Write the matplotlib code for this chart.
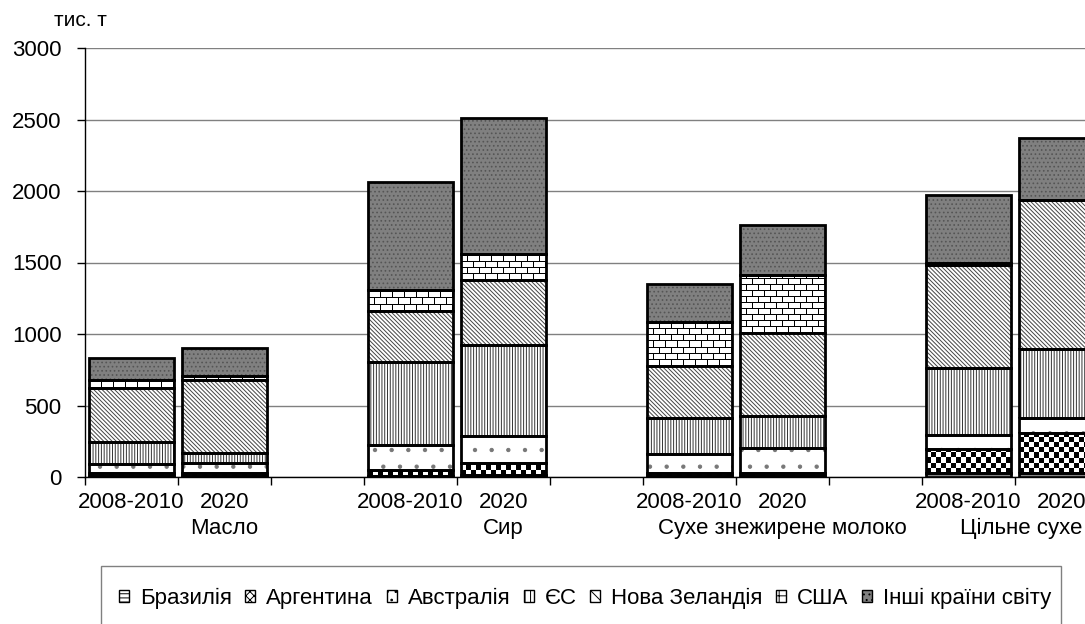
import numpy as np
import matplotlib
matplotlib.use('Agg')
import matplotlib.pyplot as plt
from matplotlib.patches import Patch, Rectangle

plt.rcParams['font.family'] = ['Liberation Sans', 'DejaVu Sans']
plt.rcParams['hatch.linewidth'] = 0.7

groups = ['Масло', 'Сир', 'Сухе знежирене молоко', 'Цільне сухе молоко']
periods = ['2008-2010', '2020']
series_names = ['Бразилія', 'Аргентина', 'Австралія', 'ЄС', 'Нова Зеландія', 'США', 'Інші країни світу']
# bar order: Масло 08-10, Масло 2020, Сир 08-10, Сир 2020, СЗМ 08-10, СЗМ 2020, ЦСМ 08-10, ЦСМ 2020
brazil    = [5, 5, 10, 15, 5, 5, 25, 30]
argentina = [20, 25, 40, 80, 20, 25, 170, 275]
australia = [65, 65, 175, 190, 135, 170, 100, 105]
eu        = [155, 70, 580, 635, 250, 225, 465, 485]
nz        = [380, 510, 357, 460, 365, 580, 725, 1040]
usa       = [55, 30, 147, 180, 310, 405, 10, 5]
others    = [155, 200, 755, 950, 265, 355, 480, 430]
yticks = [0, 500, 1000, 1500, 2000, 2500, 3000]

FW, FH = 1085, 624
fig = plt.figure(figsize=(FW / 100, FH / 100), dpi=100)
n_slots = 12
slot_px = 93
ax_w_px = n_slots * slot_px
ax_h_px = 429
ax = fig.add_axes([85 / FW, (FH - 477) / FH, ax_w_px / FW, ax_h_px / FH])
px_x = slot_px
px_y = ax_h_px / 3000.0

x = np.array([3 * (k // 2) + (k % 2) + 0.5 for k in range(8)])
bw = 85 / 93


def checker(hpx, wpx, cell=5):
    i, j = np.indices((hpx, wpx))
    return ((i // cell + j // cell) % 2).astype(float)


def bricks(hpx, wpx, bh=6, bwid=12):
    i, j = np.indices((hpx, wpx))
    arr = np.ones((hpx, wpx))
    arr[i % bh == 0] = 0
    off = ((i // bh) % 2) * (bwid // 2)
    arr[(j + off) % bwid == 0] = 0
    return arr


styles = [
    dict(face='white', hatch='---', hc='black', tex=None),
    dict(face='white', hatch=None, hc='black', tex=checker),
    dict(face='white', hatch='.', hc='#777777', tex=None),
    dict(face='white', hatch='||||||', hc='#333333', tex=None),
    dict(face='white', hatch='\\\\\\\\\\\\\\\\', hc='#444444', tex=None),
    dict(face='white', hatch=None, hc='black', tex=bricks),
    dict(face='#808080', hatch='....', hc='#555555', tex=None),
]
data = [brazil, argentina, australia, eu, nz, usa, others]

bottom = np.zeros(8)
for vals, st in zip(data, styles):
    vals = np.array(vals, dtype=float)
    if st['tex'] is None:
        ax.bar(x, vals, bw, bottom=bottom, color=st['face'], hatch=st['hatch'],
               edgecolor=st['hc'], linewidth=0, zorder=2)
    else:
        bars = ax.bar(x, vals, bw, bottom=bottom, color='white', linewidth=0, zorder=2)
        for rect in bars:
            hpx = int(round(rect.get_height() * px_y))
            wpx = int(round(rect.get_width() * px_x))
            if hpx < 2:
                continue
            arr = st['tex'](hpx, wpx)
            im = ax.imshow(arr, cmap='gray', vmin=0, vmax=1, interpolation='nearest',
                           extent=[rect.get_x(), rect.get_x() + rect.get_width(),
                                   rect.get_y(), rect.get_y() + rect.get_height()],
                           aspect='auto', zorder=3, origin='lower')
            im.set_clip_path(rect)
    ax.bar(x, vals, bw, bottom=bottom, fill=False, edgecolor='black', linewidth=2, zorder=4)
    bottom += vals

ax.set_xlim(0, n_slots)
ax.set_ylim(0, 3000)
ax.set_aspect('auto')

ax.spines['top'].set_visible(False)
ax.spines['right'].set_visible(False)
ax.spines['left'].set_linewidth(1)
ax.spines['bottom'].set_linewidth(1)
ax.set_axisbelow(True)
ax.yaxis.grid(True, color='#808080', linewidth=1)

ax.set_yticks(yticks)
ax.set_yticklabels([str(v) for v in yticks])
ax.tick_params(axis='y', length=6, width=1, pad=11, labelsize=16)

ax.set_xticks(np.arange(0, n_slots + 1))
ax.set_xticklabels([])
ax.tick_params(axis='x', which='major', length=6, width=1)
centers = []
labels = []
for g in range(4):
    for p in range(2):
        centers.append(3 * g + p + 0.5)
        labels.append(periods[p])
ax.set_xticks(centers, minor=True)
ax.set_xticklabels(labels, minor=True)
ax.tick_params(axis='x', which='minor', length=0, pad=11, labelsize=16)

for g, name in enumerate(groups):
    ax.annotate(name, xy=(3 * g + 1.5, 0), xycoords=('data', 'axes fraction'),
                xytext=(0, -37), textcoords='offset points', ha='center', va='center',
                fontsize=16, annotation_clip=False)

fig.text(80 / FW, 1 - 21 / FH, 'тис. т', ha='center', va='center', fontsize=15)

handles = [
    Patch(facecolor='white', edgecolor='black', hatch='----', linewidth=1),
    Patch(facecolor='white', edgecolor='black', hatch='xxxx', linewidth=1),
    Patch(facecolor='white', edgecolor='black', hatch='..', linewidth=1),
    Patch(facecolor='white', edgecolor='black', hatch='|||', linewidth=1),
    Patch(facecolor='white', edgecolor='black', hatch='\\\\\\', linewidth=1),
    Patch(facecolor='white', edgecolor='black', hatch='++', linewidth=1),
    Patch(facecolor='#808080', edgecolor='black', hatch='...', linewidth=1),
]
fig.legend(handles, series_names, loc='center', bbox_to_anchor=(585 / FW, 1 - 598 / FH),
           ncol=7, frameon=False, fontsize=16, handlelength=0.45, handleheight=0.45,
           handletextpad=0.5, columnspacing=0.6)
fig.add_artist(Rectangle((101 / FW, -0.05), 960 / FW, 0.05 + (FH - 566) / FH,
                         transform=fig.transFigure, fill=False, edgecolor='#808080',
                         linewidth=1))

fig.savefig('out.png', dpi=100)
